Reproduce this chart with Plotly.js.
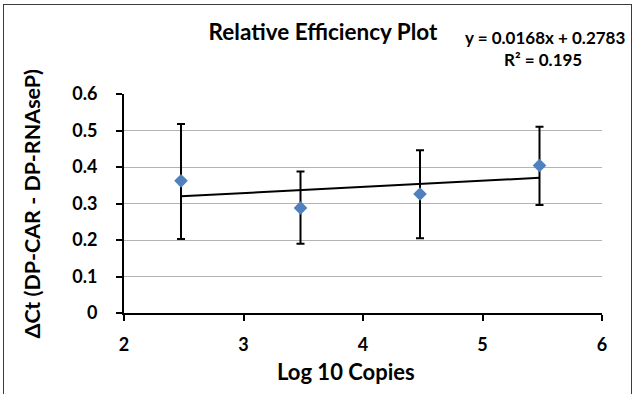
<!DOCTYPE html>
<html>
<head>
<meta charset="utf-8">
<script src="https://cdn.plot.ly/plotly-3.0.1.min.js"></script>
<style>
  html, body { margin: 0; padding: 0; background: #fff; }
  #wrap { position: relative; width: 634px; height: 394px; overflow: hidden; }
  #chart { position: absolute; left: 0; top: 0; width: 634px; height: 394px; }
  #frame { position: absolute; left: 3px; top: 4px; width: 627px; height: 440px;
           border: 1.5px solid #3c3c3c; pointer-events: none; }
</style>
</head>
<body>
<div id="wrap">
  <div id="chart"></div>
  <div id="frame"></div>
</div>
<script>
// ---- data ----
const logCopies   = [2.477, 3.477, 4.477, 5.477];
const deltaCt     = [0.362, 0.288, 0.326, 0.404];
const deltaCtHigh = [0.518, 0.388, 0.446, 0.510];
const deltaCtLow  = [0.203, 0.190, 0.205, 0.296];
const trendSlope = 0.0168;
const trendIntercept = 0.2783;
const rSquared = 0.195;
const xTicks = [2, 3, 4, 5, 6];
const yTicks = [0, 0.1, 0.2, 0.3, 0.4, 0.5, 0.6];

const errPlus  = deltaCt.map((v, i) => deltaCtHigh[i] - v);
const errMinus = deltaCt.map((v, i) => v - deltaCtLow[i]);
const trendX = [logCopies[0], logCopies[logCopies.length - 1]];
const trendY = trendX.map(x => trendSlope * x + trendIntercept);

const FONT = 'Lato, "Open Sans", sans-serif';

const traces = [
  {
    x: trendX, y: trendY, type: 'scatter', mode: 'lines',
    line: { color: '#000000', width: 2 }, hoverinfo: 'skip', showlegend: false
  },
  {
    x: logCopies, y: deltaCt, type: 'scatter', mode: 'markers',
    marker: { symbol: 'diamond', size: 10.5, color: '#4f81bd' },
    error_y: { type: 'data', symmetric: false, array: errPlus, arrayminus: errMinus,
               color: '#000000', thickness: 2, width: 4 },
    showlegend: false
  }
];

// plot area in pixels: left 124, right 602, top 94, bottom 313
const L = 124, R = 602, T = 94, B = 313;
const px = x => (x - L) / (R - L);
const py = y => (B - y) / (B - T);

const layout = {
  width: 634, height: 394,
  margin: { l: L, r: 634 - R, t: T, b: 394 - B, pad: 0 },
  paper_bgcolor: 'rgba(0,0,0,0)', plot_bgcolor: 'rgba(0,0,0,0)',
  font: { family: FONT, color: '#000000' },
  showlegend: false,
  title: {
    text: '<b>Relative Efficiency Plot</b>',
    font: { family: FONT, size: 22.5, color: '#000000' },
    xref: 'container', yref: 'container',
    x: 323 / 634, xanchor: 'center', y: 1 - 32 / 394, yanchor: 'middle'
  },
  xaxis: {
    range: [2, 6], tickvals: xTicks, ticktext: xTicks.map(v => '<b>' + v + '</b>'),
    showgrid: false, zeroline: false,
    showline: true, linecolor: '#000000', linewidth: 2,
    ticks: 'outside', ticklen: 6, tickwidth: 2, tickcolor: '#000000',
    tickfont: { family: FONT, size: 18, color: '#000000' },
    ticklabelstandoff: 8, fixedrange: true
  },
  yaxis: {
    range: [0, 0.6], tickvals: yTicks, ticktext: yTicks.map(v => '<b>' + v + '</b>'),
    showgrid: true, gridcolor: '#b4b4b4', gridwidth: 1, zeroline: false,
    showline: true, linecolor: '#000000', linewidth: 2,
    ticks: 'outside', ticklen: 6, tickwidth: 2, tickcolor: '#000000',
    tickfont: { family: FONT, size: 18, color: '#000000' },
    ticklabelstandoff: 15, fixedrange: true
  },
  annotations: [
    { text: '<b>Log 10 Copies</b>', xref: 'paper', yref: 'paper',
      x: px(345.5), y: py(371.5), xanchor: 'center', yanchor: 'middle',
      showarrow: false, font: { family: FONT, size: 22, color: '#000000' } },
    { text: '<b>ΔCt (DP-CAR - DP-RNAseP)</b>', xref: 'paper', yref: 'paper',
      x: px(31), y: py(203.5), xanchor: 'center', yanchor: 'middle', textangle: -90,
      showarrow: false, font: { family: FONT, size: 21.5, color: '#000000' } },
    { text: '<b>y = ' + trendSlope.toFixed(4) + 'x + ' + trendIntercept.toFixed(4) + '</b>',
      xref: 'paper', yref: 'paper', x: px(544.5), y: py(37.3),
      xanchor: 'center', yanchor: 'middle', showarrow: false,
      font: { family: FONT, size: 17, color: '#000000' } },
    { text: '<b>R² = ' + rSquared + '</b>',
      xref: 'paper', yref: 'paper', x: px(542.6), y: py(60),
      xanchor: 'center', yanchor: 'middle', showarrow: false,
      font: { family: FONT, size: 17, color: '#000000' } }
  ]
};

Plotly.newPlot('chart', traces, layout, { displayModeBar: false, staticPlot: true });
</script>
</body>
</html>
